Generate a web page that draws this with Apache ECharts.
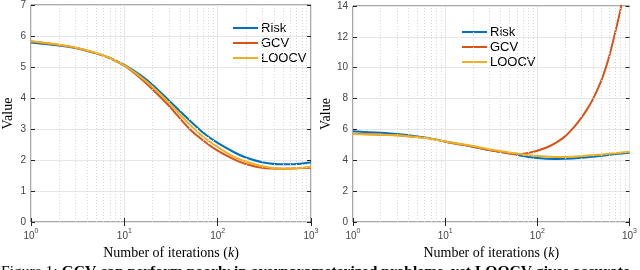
<!DOCTYPE html>
<html>
<head>
<meta charset="utf-8">
<script src="https://cdn.jsdelivr.net/npm/echarts@6/dist/echarts.min.js"></script>
<style>
html,body{margin:0;padding:0;background:#fff;overflow:hidden;}
#c{width:640px;height:270px;}
</style>
</head>
<body>
<div id="c"></div>
<script>
// ---------- data ----------
const seriesNames = ['Risk', 'GCV', 'LOOCV'];
const xTickValues = [1, 10, 100, 1000];
const xTickExponents = ['0', '1', '2', '3'];
const minorGridX = [2,3,4,5,6,7,8,9,20,30,40,50,60,70,80,90,200,300,400,500,600,700,800,900];

// left panel
const leftX     = [1, 2, 3, 5, 7, 10, 15, 20, 30, 50, 70, 100, 150, 200, 300, 500, 700, 1000];
const leftRisk  = [5.79, 5.69, 5.61, 5.44, 5.29, 5.07, 4.73, 4.43, 3.92, 3.28, 2.88, 2.55, 2.25, 2.08, 1.93, 1.86, 1.87, 1.93];
const leftGCV   = [5.82, 5.71, 5.62, 5.44, 5.28, 5.04, 4.63, 4.28, 3.75, 3.00, 2.63, 2.30, 2.02, 1.87, 1.75, 1.72, 1.73, 1.75];
const leftLOOCV = [5.83, 5.72, 5.63, 5.45, 5.29, 5.05, 4.68, 4.36, 3.85, 3.15, 2.75, 2.42, 2.10, 1.95, 1.80, 1.72, 1.73, 1.78];
const leftYTicks = [0, 1, 2, 3, 4, 5, 6, 7];

// right panel
const rightX     = [1, 2, 3, 5, 7, 10, 15, 20, 30, 50, 70, 100, 150, 200, 300, 500, 700, 1000];
const rightRisk  = [5.88, 5.78, 5.70, 5.55, 5.42, 5.22, 5.02, 4.88, 4.67, 4.45, 4.28, 4.15, 4.09, 4.10, 4.17, 4.30, 4.40, 4.49];
const rightLOOCV = [5.70, 5.66, 5.62, 5.50, 5.40, 5.22, 5.05, 4.92, 4.72, 4.50, 4.38, 4.27, 4.22, 4.22, 4.27, 4.38, 4.46, 4.55];
const rightGCVX  = [1, 2, 3, 5, 7, 10, 15, 20, 30, 50, 60, 80, 100, 130, 160, 200, 250, 300, 350, 400, 500, 600, 700, 800, 1000];
const rightGCV   = [5.72, 5.66, 5.62, 5.50, 5.40, 5.20, 5.02, 4.88, 4.66, 4.44, 4.40, 4.48, 4.62, 4.86, 5.14, 5.55, 6.15, 6.75, 7.35, 7.95, 9.25, 10.70, 12.30, 13.80, 17.50];
const rightYTicks = [0, 2, 4, 6, 8, 10, 12, 14];

const captionNormal = 'Figure 1: ';
const captionBold = 'GCV can perform poorly in overparameterized problems, yet LOOCV gives accurate';

// ---------- styling ----------
const colors = ['#0072BD', '#D95319', '#EDB120'];
const axisColor = '#262626';
const gridColor = '#e6e6e6';
const sans = 'Liberation Sans';
const serif = 'Liberation Serif';

function pairs(xs, ys) { return xs.map((x, i) => [x, ys[i]]); }

const expMap = {};
xTickValues.forEach((v, i) => { expMap[v] = xTickExponents[i]; });

function xAxisMain(gridIndex) {
  return {
    type: 'log', logBase: 10, min: xTickValues[0], max: xTickValues[xTickValues.length - 1],
    gridIndex: gridIndex,
    name: '{n|Number of iterations (}{i|k}{n|)}',
    nameLocation: 'middle', nameGap: 22,
    nameTextStyle: { rich: {
      n: { fontFamily: serif, fontSize: 14, color: '#000' },
      i: { fontFamily: serif, fontSize: 14, fontStyle: 'italic', color: '#000' } } },
    axisLine: { show: false },
    axisTick: { show: true, inside: true, length: 4, lineStyle: { color: axisColor } },
    axisLabel: {
      color: '#444', margin: 6,
      formatter: v => (expMap[v] !== undefined ? '{b|10}{s|' + expMap[v] + '}' : ''),
      rich: {
        b: { fontFamily: sans, fontSize: 10, color: '#444', verticalAlign: 'bottom' },
        s: { fontFamily: sans, fontSize: 7, color: '#444', verticalAlign: 'top', padding: [0, 0, 6, 0] }
      }
    },
    splitLine: { show: true, lineStyle: { color: gridColor, width: 1 } }
  };
}
function xAxisTop(gridIndex) {
  return {
    type: 'log', logBase: 10, min: xTickValues[0], max: xTickValues[xTickValues.length - 1],
    gridIndex: gridIndex, position: 'top',
    axisLine: { show: false }, axisLabel: { show: false }, splitLine: { show: false },
    axisTick: { show: true, inside: true, length: 4, lineStyle: { color: axisColor } }
  };
}
function yAxisMain(gridIndex, ticks, gap) {
  return {
    type: 'value', gridIndex: gridIndex,
    min: ticks[0], max: ticks[ticks.length - 1], interval: ticks[1] - ticks[0],
    name: 'Value', nameLocation: 'middle', nameGap: gap, nameRotate: 90,
    nameTextStyle: { fontFamily: serif, fontSize: 14, color: '#000' },
    axisLine: { show: false },
    axisTick: { show: true, inside: true, length: 4, lineStyle: { color: axisColor } },
    axisLabel: { fontFamily: sans, fontSize: 10, color: '#444', margin: 5 },
    splitLine: { show: true, lineStyle: { color: gridColor, width: 1 } }
  };
}
function yAxisRight(gridIndex, ticks) {
  return {
    type: 'value', gridIndex: gridIndex, position: 'right',
    min: ticks[0], max: ticks[ticks.length - 1], interval: ticks[1] - ticks[0],
    axisLine: { show: false }, axisLabel: { show: false }, splitLine: { show: false },
    axisTick: { show: true, inside: true, length: 4, lineStyle: { color: axisColor } }
  };
}
function minorSeries(xi, yi) {
  return {
    type: 'line', xAxisIndex: xi, yAxisIndex: yi, data: [[1, 0]],
    showSymbol: false, symbol: 'none', lineStyle: { opacity: 0 }, z: 1, silent: true,
    markLine: {
      silent: true, symbol: ['none', 'none'], label: { show: false }, animation: false,
      lineStyle: { color: '#d8d8d8', type: [1, 2], width: 1 },
      data: minorGridX.map(v => ({ xAxis: v }))
    }
  };
}
function dataSeries(name, idx, data, xi, yi) {
  return {
    name: name, type: 'line', xAxisIndex: xi, yAxisIndex: yi, data: data,
    smooth: 0.3, showSymbol: false, symbol: 'none', clip: true,
    lineStyle: { color: colors[idx], width: 2 }, itemStyle: { color: colors[idx] }, z: 3
  };
}
function legendAt(left, top) {
  return {
    data: seriesNames.map(n => ({ name: n, icon: 'rect' })),
    orient: 'vertical', left: left, top: top,
    itemWidth: 25, itemHeight: 2, itemGap: 1,
    selectedMode: false,
    textStyle: { fontFamily: sans, fontSize: 13, lineHeight: 14, color: '#000', padding: [0, 0, 0, -2] }
  };
}

const chart = echarts.init(document.getElementById('c'), null, { renderer: 'canvas' });
chart.setOption({
  animation: false,
  backgroundColor: '#fff',
  grid: [
    { left: 27, right: 329, top: 3, bottom: 48, show: true, borderColor: '#555', borderWidth: 1, containLabel: false },
    { left: 353, right: 8, top: 6, bottom: 48, show: true, borderColor: '#555', borderWidth: 1, containLabel: false }
  ],
  xAxis: [xAxisMain(0), xAxisTop(0), xAxisMain(1), xAxisTop(1)],
  yAxis: [yAxisMain(0, leftYTicks, 16), yAxisRight(0, leftYTicks), yAxisMain(1, rightYTicks, 18), yAxisRight(1, rightYTicks)],
  legend: [legendAt(228, 16), legendAt(457, 20)],
  series: [
    minorSeries(0, 0),
    minorSeries(2, 2),
    dataSeries('Risk', 0, pairs(leftX, leftRisk), 0, 0),
    dataSeries('GCV', 1, pairs(leftX, leftGCV), 0, 0),
    dataSeries('LOOCV', 2, pairs(leftX, leftLOOCV), 0, 0),
    dataSeries('Risk', 0, pairs(rightX, rightRisk), 2, 2),
    dataSeries('GCV', 1, pairs(rightGCVX, rightGCV), 2, 2),
    dataSeries('LOOCV', 2, pairs(rightX, rightLOOCV), 2, 2)
  ],
  graphic: [{
    type: 'text', left: 1, top: 264, silent: true,
    style: {
      text: '{n|' + captionNormal + '}{b|' + captionBold + '}',
      rich: {
        n: { fontFamily: serif, fontSize: 15.6, color: '#000' },
        b: { fontFamily: serif, fontSize: 15.6, fontWeight: 'bold', color: '#000' }
      }
    }
  }]
});
</script>
</body>
</html>
